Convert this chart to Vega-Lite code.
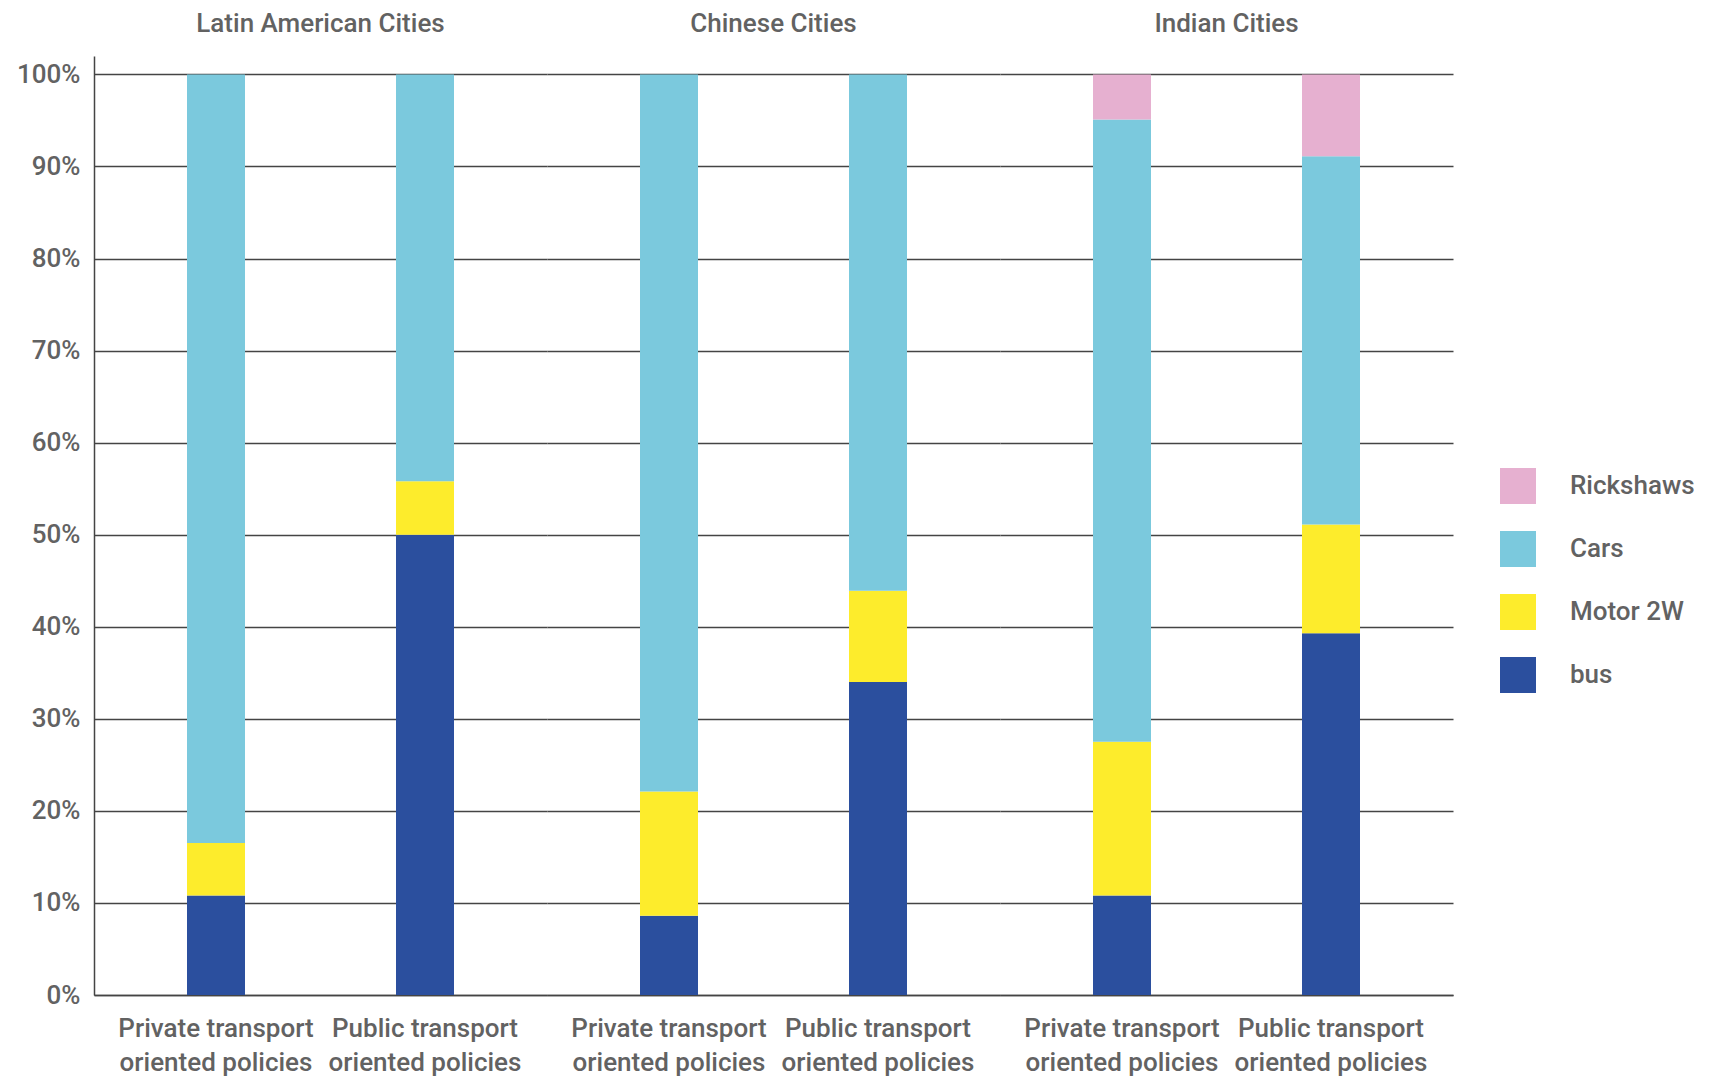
{
  "$schema": "https://vega.github.io/schema/vega-lite/v6.json",
  "padding": {"left": 16, "top": 11, "right": 5, "bottom": 5},
  "background": "white",
  "data": {
    "values": [
      {"region": "Latin American Cities", "policy": "Private transport oriented policies", "mode": "bus", "share": 0.108},
      {"region": "Latin American Cities", "policy": "Private transport oriented policies", "mode": "Motor 2W", "share": 0.057},
      {"region": "Latin American Cities", "policy": "Private transport oriented policies", "mode": "Cars", "share": 0.835},
      {"region": "Latin American Cities", "policy": "Public transport oriented policies", "mode": "bus", "share": 0.500},
      {"region": "Latin American Cities", "policy": "Public transport oriented policies", "mode": "Motor 2W", "share": 0.058},
      {"region": "Latin American Cities", "policy": "Public transport oriented policies", "mode": "Cars", "share": 0.442},
      {"region": "Chinese Cities", "policy": "Private transport oriented policies", "mode": "bus", "share": 0.086},
      {"region": "Chinese Cities", "policy": "Private transport oriented policies", "mode": "Motor 2W", "share": 0.135},
      {"region": "Chinese Cities", "policy": "Private transport oriented policies", "mode": "Cars", "share": 0.779},
      {"region": "Chinese Cities", "policy": "Public transport oriented policies", "mode": "bus", "share": 0.340},
      {"region": "Chinese Cities", "policy": "Public transport oriented policies", "mode": "Motor 2W", "share": 0.099},
      {"region": "Chinese Cities", "policy": "Public transport oriented policies", "mode": "Cars", "share": 0.561},
      {"region": "Indian Cities", "policy": "Private transport oriented policies", "mode": "bus", "share": 0.108},
      {"region": "Indian Cities", "policy": "Private transport oriented policies", "mode": "Motor 2W", "share": 0.167},
      {"region": "Indian Cities", "policy": "Private transport oriented policies", "mode": "Cars", "share": 0.676},
      {"region": "Indian Cities", "policy": "Private transport oriented policies", "mode": "Rickshaws", "share": 0.049},
      {"region": "Indian Cities", "policy": "Public transport oriented policies", "mode": "bus", "share": 0.393},
      {"region": "Indian Cities", "policy": "Public transport oriented policies", "mode": "Motor 2W", "share": 0.118},
      {"region": "Indian Cities", "policy": "Public transport oriented policies", "mode": "Cars", "share": 0.400},
      {"region": "Indian Cities", "policy": "Public transport oriented policies", "mode": "Rickshaws", "share": 0.089}
    ]
  },
  "transform": [
    {"calculate": "indexof(['bus', 'Motor 2W', 'Cars', 'Rickshaws'], datum.mode)", "as": "stackRank"}
  ],
  "facet": {
    "column": {
      "field": "region",
      "type": "nominal",
      "sort": ["Latin American Cities", "Chinese Cities", "Indian Cities"],
      "header": {
        "title": null,
        "labelOrient": "top",
        "labelFont": "Roboto",
        "labelFontSize": 26,
        "labelFontWeight": 500,
        "labelColor": "#626262",
        "labelPadding": 19
      }
    }
  },
  "spacing": 0,
  "spec": {
    "width": 453,
    "height": 939,
    "mark": {"type": "bar"},
    "encoding": {
      "x": {
        "field": "policy",
        "type": "nominal",
        "scale": {"paddingInner": 0.7225, "paddingOuter": 0.445},
        "axis": {
          "title": null,
          "labelAngle": 0,
          "ticks": false,
          "domainColor": "#444444",
          "domainWidth": 1.5,
          "labelFont": "Roboto",
          "labelFontSize": 26,
          "labelFontWeight": 500,
          "labelColor": "#626262",
          "labelLineHeight": 34,
          "labelPadding": 20,
          "labelLimit": 0,
          "labelExpr": "split(replace(datum.label, ' oriented', '|oriented'), '|')"
        }
      },
      "y": {
        "field": "share",
        "type": "quantitative",
        "stack": "zero",
        "scale": {"domain": [0, 1.02], "nice": false},
        "axis": {
          "title": null,
          "values": [0, 0.1, 0.2, 0.3, 0.4, 0.5, 0.6, 0.7, 0.8, 0.9, 1.0],
          "format": ".0%",
          "ticks": false,
          "domainColor": "#444444",
          "domainWidth": 1.5,
          "gridColor": "#444444",
          "gridWidth": 1.5,
          "labelFont": "Roboto",
          "labelFontSize": 26,
          "labelFontWeight": 500,
          "labelColor": "#626262",
          "labelPadding": 14
        }
      },
      "order": {"field": "stackRank", "type": "quantitative", "sort": "ascending"},
      "color": {
        "field": "mode",
        "type": "nominal",
        "scale": {
          "domain": ["Rickshaws", "Cars", "Motor 2W", "bus"],
          "range": ["#e6b0d0", "#7bc9dd", "#fdec2c", "#2b4f9e"]
        },
        "legend": {
          "title": null,
          "orient": "none",
          "legendX": 1406,
          "legendY": 412,
          "symbolType": "square",
          "symbolSize": 1296,
          "symbolStrokeWidth": 0,
          "symbolOpacity": 1,
          "rowPadding": 27,
          "labelOffset": 34,
          "labelFont": "Roboto",
          "labelFontSize": 26,
          "labelFontWeight": 500,
          "labelColor": "#626262"
        }
      }
    }
  },
  "config": {
    "view": {"stroke": null}
  }
}
